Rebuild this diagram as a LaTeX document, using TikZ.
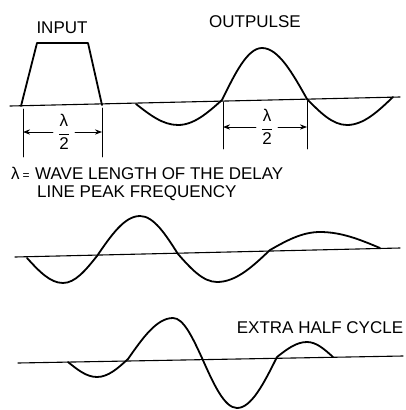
\documentclass[tikz,border=0pt]{standalone}
\usepackage{fontspec}
\setmainfont{Liberation Sans}
\usetikzlibrary{arrows.meta, positioning}

\begin{document}
\begin{tikzpicture}[x=1pt, y=-1pt, >=Stealth, line cap=round, line join=round,
        every node/.style={font=\fontsize{17}{18}\selectfont, inner sep=0pt},
        axis/.style={line width=1.1pt},
        wave/.style={line width=1.8pt},
        dim/.style={line width=0.9pt},
        half/.style={inner sep=5pt}]
        \useasboundingbox (0,0) rectangle (405,410);

        % Labels
        \node (input) at (62,28) {INPUT};
        \node (outpulse) at (255,22) {OUTPULSE};
        \node[anchor=west] (lamdef) at (11,173) {λ\,{\fontsize{12}{12}\selectfont=}};
        \node[anchor=north west, align=left] (legend) at (35,167) {WAVE LENGTH OF THE DELAY\\\hspace*{2pt}LINE PEAK FREQUENCY};
        \node (extra) at (320,328) {EXTRA HALF CYCLE};

        % Top trace
        \draw[axis] (10,106) -- (400,97);
        \draw[wave] (21,106) -- (37,43) -- (88,43) -- (102,105);
        \draw[wave] (136,104) sin (178,125) cos (222,100) sin (262,48) cos (307,99) sin (347,125) cos (393,97);

        % Half wave length marks
        \node[half] (lamL) at (64,132) {$\displaystyle\frac{\mbox{λ}}{\mbox{2}}$};
        \node[half] (lamR) at (267,127) {$\displaystyle\frac{\mbox{λ}}{\mbox{2}}$};
        \coordinate (tL1) at (23,109);
        \coordinate (tL2) at (102,108);
        \coordinate (tR1) at (223,102);
        \coordinate (tR2) at (307,101);
        \coordinate (bL1) at (23,157);
        \coordinate (bL2) at (102,157);
        \coordinate (bR1) at (223,149);
        \coordinate (bR2) at (307,149);
        \coordinate (aL1) at (23,132);
        \coordinate (aL2) at (102,132);
        \coordinate (aR1) at (223,127);
        \coordinate (aR2) at (307,127);
        \draw[dim] (tL1) -- (bL1);
        \draw[dim] (tL2) -- (bL2);
        \draw[dim] (tR1) -- (bR1);
        \draw[dim] (tR2) -- (bR2);
        \draw[dim, ->] (lamL) -- (aL1);
        \draw[dim, ->] (lamL) -- (aL2);
        \draw[dim, ->] (lamR) -- (aR1);
        \draw[dim, ->] (lamR) -- (aR2);

        % Middle trace
        \draw[axis] (15,257) -- (400,248);
        \draw[wave] (27,258) sin (63,283) cos (97,256) sin (140,216) cos (178,254) sin (217,282) cos (270,250) sin (320,232) cos (380,248);

        % Bottom trace
        \draw[axis] (18,363) -- (403,356);
        \draw[wave] (68,362) sin (97,377) cos (128,359) sin (173,318) cos (202,358) sin (237,408) cos (277,357) sin (307,342) cos (333,357);
\end{tikzpicture}
\end{document}
